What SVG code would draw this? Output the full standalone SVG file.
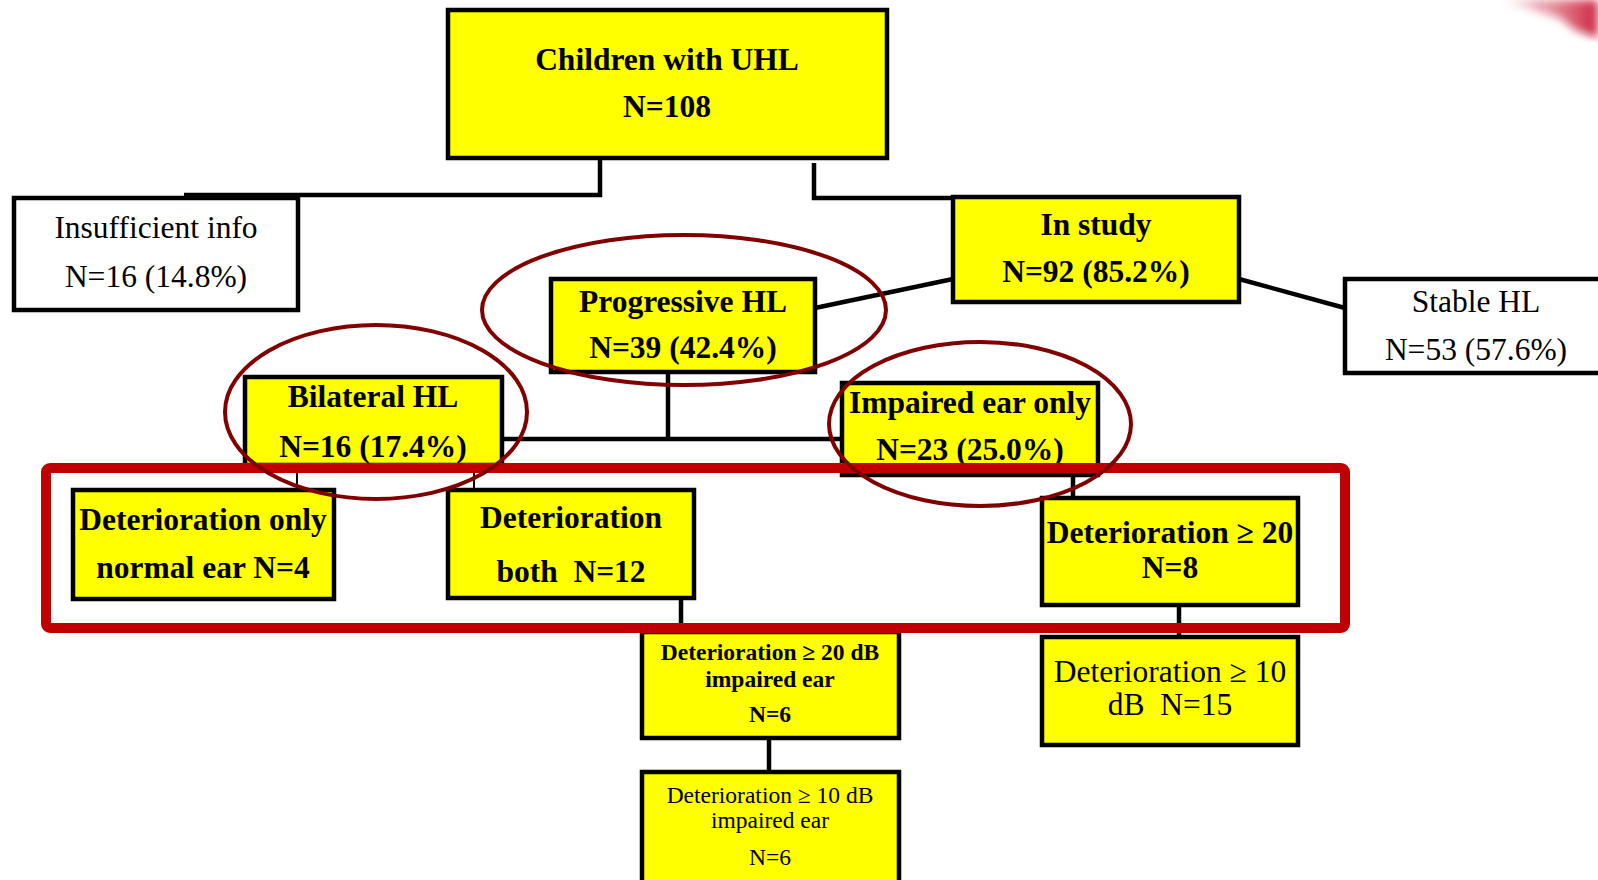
<svg xmlns="http://www.w3.org/2000/svg" width="1598" height="880" viewBox="0 0 1598 880">
<style>
.y{fill:#FFFF00;stroke:#000;stroke-width:4.5}
.w{fill:#FFFFFF;stroke:#000;stroke-width:4.5}
.c{fill:none;stroke:#000;stroke-width:4.5}
.t{fill:none;stroke:#000;stroke-width:2}
.b{font-family:"Liberation Serif","Times New Roman",serif;font-weight:bold;font-size:31.5px;fill:#000;text-anchor:middle}
.r{font-family:"Liberation Serif","Times New Roman",serif;font-size:31.5px;fill:#000;text-anchor:middle}
.bs{font-family:"Liberation Serif","Times New Roman",serif;font-weight:bold;font-size:23.5px;fill:#000;text-anchor:middle}
.rs{font-family:"Liberation Serif","Times New Roman",serif;font-size:23.5px;fill:#000;text-anchor:middle}
.ov{fill:none;stroke:#800000;stroke-width:4}
</style>
<defs>
<linearGradient id="sw" x1="0" y1="0" x2="1" y2="0">
<stop offset="0" stop-color="#C8102E" stop-opacity="0"/>
<stop offset="1" stop-color="#C8102E" stop-opacity="0.9"/>
</linearGradient>
<filter id="bl"><feGaussianBlur stdDeviation="4"/></filter>
</defs>
<rect width="1598" height="880" fill="#FFFFFF"/>
<g id="decor" filter="url(#bl)">
<path d="M1500 0 L1598 0 L1598 38 L1575 30 L1560 18 Z" fill="url(#sw)"/>
</g>
<g id="connectors">
<polyline class="c" points="184,195 600,195 600,158"/>
<polyline class="c" points="814,163 814,198 955,198"/>
<line class="c" x1="953" y1="279" x2="815" y2="308"/>
<line class="c" x1="1239" y1="279" x2="1345" y2="308"/>
<line class="c" x1="668" y1="372" x2="668" y2="439"/>
<line class="c" x1="502" y1="439" x2="842" y2="439"/>
<line class="t" x1="297" y1="464" x2="297" y2="490"/>
<line class="t" x1="474" y1="464" x2="474" y2="490"/>
<line class="c" x1="681" y1="593" x2="681" y2="633"/>
<line class="c" x1="769" y1="738" x2="769" y2="772"/>
<line class="c" x1="1073" y1="475" x2="1073" y2="498"/>
<line class="c" x1="1179" y1="605" x2="1179" y2="637"/>
</g>
<g id="n-root">
<rect class="y" x="448" y="10" width="439" height="148"/>
<text class="b" x="667" y="70">Children with UHL</text>
<text class="b" x="667" y="117">N=108</text>
</g>
<g id="n-insufficient">
<rect class="w" x="14" y="198" width="284" height="112"/>
<text class="r" x="156" y="238">Insufficient info</text>
<text class="r" x="156" y="287">N=16 (14.8%)</text>
</g>
<g id="n-instudy">
<rect class="y" x="953" y="197" width="286" height="105"/>
<text class="b" x="1096" y="235">In study</text>
<text class="b" x="1096" y="282">N=92 (85.2%)</text>
</g>
<g id="n-stable">
<rect class="w" x="1345" y="279" width="270" height="94"/>
<text class="r" x="1476" y="312">Stable HL</text>
<text class="r" x="1476" y="360">N=53 (57.6%)</text>
</g>
<g id="n-progressive">
<rect class="y" x="551" y="279" width="264" height="93"/>
<text class="b" x="683" y="312">Progressive HL</text>
<text class="b" x="683" y="358">N=39 (42.4%)</text>
</g>
<g id="n-bilateral">
<rect class="y" x="245" y="377" width="257" height="88"/>
<text class="b" x="373" y="407">Bilateral HL</text>
<text class="b" x="373" y="457">N=16 (17.4%)</text>
</g>
<g id="n-impaired">
<rect class="y" x="842" y="383" width="256" height="92"/>
<text class="b" x="970" y="413">Impaired ear only</text>
<text class="b" x="970" y="460">N=23 (25.0%)</text>
</g>
<g id="n-det-normal">
<rect class="y" x="73" y="490" width="261" height="109"/>
<text class="b" x="203" y="530">Deterioration only</text>
<text class="b" x="203" y="578">normal ear N=4</text>
</g>
<g id="n-det-both">
<rect class="y" x="448" y="490" width="246" height="108"/>
<text class="b" x="571" y="528">Deterioration</text>
<text class="b" x="571" y="582" xml:space="preserve">both  N=12</text>
</g>
<g id="n-det20-n8">
<rect class="y" x="1042" y="498" width="256" height="107"/>
<text class="b" x="1170" y="543">Deterioration ≥ 20</text>
<text class="b" x="1170" y="578">N=8</text>
</g>
<g id="n-det10-n15">
<rect class="y" x="1042" y="637" width="256" height="108"/>
<text class="r" x="1170" y="682">Deterioration ≥ 10</text>
<text class="r" x="1170" y="715" xml:space="preserve">dB  N=15</text>
</g>
<g id="n-det20-n6">
<rect class="y" x="642" y="632" width="257" height="106"/>
<text class="bs" x="770" y="660">Deterioration ≥ 20 dB</text>
<text class="bs" x="770" y="687">impaired ear</text>
<text class="bs" x="770" y="722">N=6</text>
</g>
<g id="n-det10-n6">
<rect class="y" x="642" y="772" width="257" height="120"/>
<text class="rs" x="770" y="803">Deterioration ≥ 10 dB</text>
<text class="rs" x="770" y="828">impaired ear</text>
<text class="rs" x="770" y="865">N=6</text>
</g>
<g id="highlights">
<rect x="46" y="468" width="1299" height="160" rx="4" fill="none" stroke="#C00000" stroke-width="10"/>
<ellipse class="ov" cx="684" cy="310" rx="202" ry="75"/>
<ellipse class="ov" cx="376" cy="412" rx="151" ry="87"/>
<ellipse class="ov" cx="980" cy="424" rx="151" ry="82"/>
</g>
</svg>
